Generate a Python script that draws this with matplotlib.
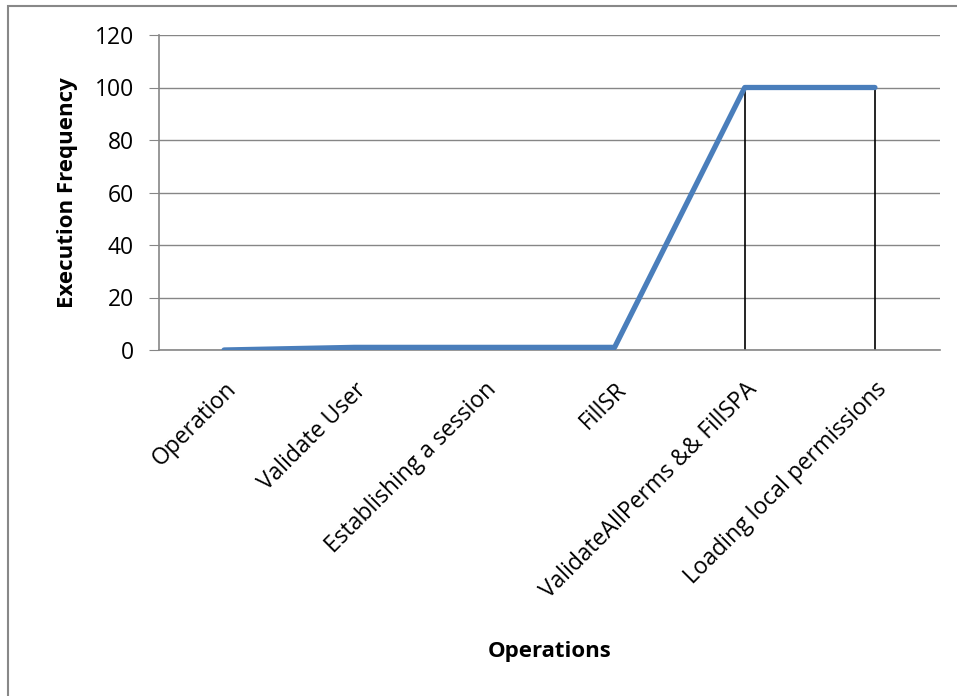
import matplotlib.pyplot as plt
from matplotlib.patches import Rectangle

operations = ["Operation", "Validate User", "Establishing a session", "FillSR",
              "ValidateAllPerms && FillSPA", "Loading local permissions"]
frequency = [0, 1, 1, 1, 100, 100]

plt.rcParams['font.family'] = ['Open Sans', 'DejaVu Sans']

fig = plt.figure(figsize=(9.57, 6.96), dpi=100)
ax = fig.add_axes([159 / 957, 1 - 350 / 696, 781 / 957, 315 / 696])

x = list(range(len(operations)))
ax.vlines(x, 0, frequency, color="black", lw=1.2, zorder=2)
ax.plot(x, frequency, color="#4a7ebb", lw=3.8, solid_capstyle="round",
        solid_joinstyle="round", zorder=3)

ax.set_xlim(-0.5, len(operations) - 0.5)
ax.set_ylim(0, 120)
ax.set_yticks(range(0, 121, 20))
ax.yaxis.grid(True, color="#868686", lw=1)
ax.set_axisbelow(True)
for s in ["top", "right"]:
    ax.spines[s].set_visible(False)
ax.spines["left"].set_color("#868686")
ax.spines["bottom"].set_color("#868686")
ax.spines["left"].set_linewidth(1.2)
ax.spines["bottom"].set_linewidth(1.2)
ax.tick_params(axis="y", length=7, color="#868686", labelsize=16.5, pad=11)
ax.tick_params(axis="x", length=0, labelsize=16.5, pad=20)
ax.set_xticks(x)
ax.set_xticklabels(operations, rotation=45, ha="right", va="top",
                   rotation_mode="anchor")

ax.set_ylabel("Execution Frequency", fontsize=16, fontweight="bold", labelpad=12)
fig.text(550 / 957, 1 - 651 / 696, "Operations", fontsize=16,
         fontweight="bold", ha="center", va="center")

fig.patches.append(Rectangle((8 / 957, -0.1), 1.2, 1 - 6 / 696 + 0.1,
                             transform=fig.transFigure, fill=False,
                             edgecolor="#888888", lw=1.5))

fig.savefig("out.png", dpi=100)
